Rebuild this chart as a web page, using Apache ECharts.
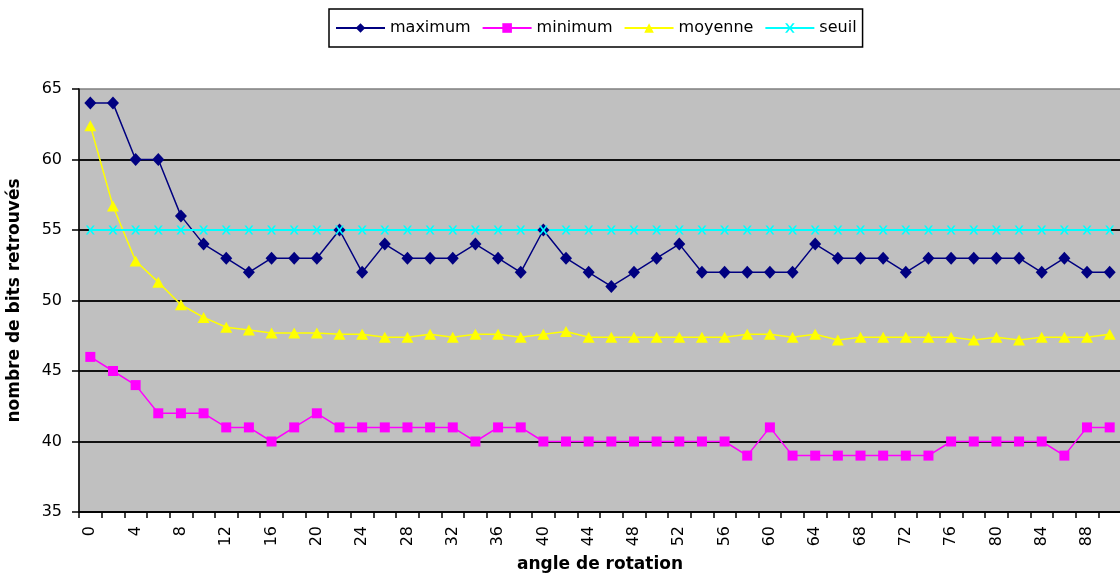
<!DOCTYPE html>
<html>
<head>
<meta charset="utf-8">
<script src="https://cdn.jsdelivr.net/npm/echarts@6/dist/echarts.min.js"></script>
<style>
html,body{margin:0;padding:0;background:#fff;}
#chart{width:1120px;height:581px;}
</style>
</head>
<body>
<div id="chart"></div>
<script>
const angles = ['0','2','4','6','8','10','12','14','16','18','20','22','24','26','28','30','32','34','36','38','40','42','44','46','48','50','52','54','56','58','60','62','64','66','68','70','72','74','76','78','80','82','84','86','88','90'];
const maximum = [64,64,60,60,56,54,53,52,53,53,53,55,52,54,53,53,53,54,53,52,55,53,52,51,52,53,54,52,52,52,52,52,54,53,53,53,52,53,53,53,53,53,52,53,52,52];
const minimum = [46,45,44,42,42,42,41,41,40,41,42,41,41,41,41,41,41,40,41,41,40,40,40,40,40,40,40,40,40,39,41,39,39,39,39,39,39,39,40,40,40,40,40,39,41,41];
const moyenne = [62.4,56.7,52.8,51.3,49.7,48.8,48.1,47.9,47.7,47.7,47.7,47.6,47.6,47.4,47.4,47.6,47.4,47.6,47.6,47.4,47.6,47.8,47.4,47.4,47.4,47.4,47.4,47.4,47.4,47.6,47.6,47.4,47.6,47.2,47.4,47.4,47.4,47.4,47.4,47.2,47.4,47.2,47.4,47.4,47.4,47.6];
const seuil = [55,55,55,55,55,55,55,55,55,55,55,55,55,55,55,55,55,55,55,55,55,55,55,55,55,55,55,55,55,55,55,55,55,55,55,55,55,55,55,55,55,55,55,55,55,55];
const yTicks = [35,40,45,50,55,60,65];

const FONT = 'DejaVu Sans';
const xSymbol = 'path://M0,0 L2.2,0 L5,3.6 L7.8,0 L10,0 L6.2,5 L10,10 L7.8,10 L5,6.4 L2.2,10 L0,10 L3.8,5 Z';

const chart = echarts.init(document.getElementById('chart'), null, {renderer:'canvas'});
chart.setOption({
  animation: false,
  backgroundColor: '#ffffff',
  textStyle: {fontFamily: FONT, color: '#000'},
  legend: {
    left: 329, top: 9,
    padding: [11, 6, 11, 6],
    borderColor: '#000', borderWidth: 1.5,
    backgroundColor: '#fff',
    itemWidth: 49, itemHeight: 12, itemGap: 11,
    textStyle: {fontFamily: FONT, fontSize: 16, color: '#000'},
    data: ['maximum','minimum','moyenne','seuil']
  },
  grid: {
    left: 79, top: 89, width: 1042, height: 423,
    show: true, backgroundColor: '#C0C0C0', borderColor: '#808080', borderWidth: 1.5,
    containLabel: false,
    outerBoundsMode: 'none'
  },
  xAxis: {
    type: 'category',
    data: angles,
    boundaryGap: true,
    name: 'angle de rotation',
    nameLocation: 'middle',
    nameGap: 44,
    nameTextStyle: {fontFamily: FONT, fontWeight: 'bold', fontSize: 17, color: '#000'},
    axisLine: {lineStyle: {color: '#000', width: 1.5}},
    axisTick: {show: true, interval: 0, alignWithLabel: false, length: 6, lineStyle: {color: '#000', width: 1.5}},
    axisLabel: {interval: 1, rotate: 90, margin: 14, fontFamily: FONT, fontSize: 16, color: '#000'},
    splitLine: {show: false}
  },
  yAxis: {
    type: 'value',
    min: yTicks[0], max: yTicks[yTicks.length-1], interval: 5,
    name: 'nombre de bits retrouvés',
    nameLocation: 'middle',
    nameRotate: 90,
    nameGap: 56,
    nameTextStyle: {fontFamily: FONT, fontWeight: 'bold', fontSize: 17, color: '#000'},
    axisLine: {show: true, lineStyle: {color: '#000', width: 1.5}},
    axisTick: {show: true, inside: false, length: 7, lineStyle: {color: '#000', width: 1.5}},
    axisLabel: {margin: 17, fontFamily: FONT, fontSize: 16, color: '#000'},
    splitLine: {show: true, showMaxLine: false, lineStyle: {color: '#111', width: 2}}
  },
  series: [
    {
      name: 'maximum', type: 'line', data: maximum,
      symbol: 'diamond', symbolSize: [12, 13], showAllSymbol: true,
      lineStyle: {color: '#000080', width: 1.5},
      itemStyle: {color: '#000080'}
    },
    {
      name: 'minimum', type: 'line', data: minimum,
      symbol: 'rect', symbolSize: 10, showAllSymbol: true,
      lineStyle: {color: '#FF00FF', width: 1.5},
      itemStyle: {color: '#FF00FF'}
    },
    {
      name: 'moyenne', type: 'line', data: moyenne,
      symbol: 'triangle', symbolSize: [12, 11], showAllSymbol: true,
      lineStyle: {color: '#FFFF00', width: 1.5},
      itemStyle: {color: '#FFFF00'}
    },
    {
      name: 'seuil', type: 'line', data: seuil,
      symbol: xSymbol, symbolSize: 9, showAllSymbol: true,
      lineStyle: {color: '#00FFFF', width: 2},
      itemStyle: {color: '#00FFFF'}
    }
  ]
});
</script>
</body>
</html>
